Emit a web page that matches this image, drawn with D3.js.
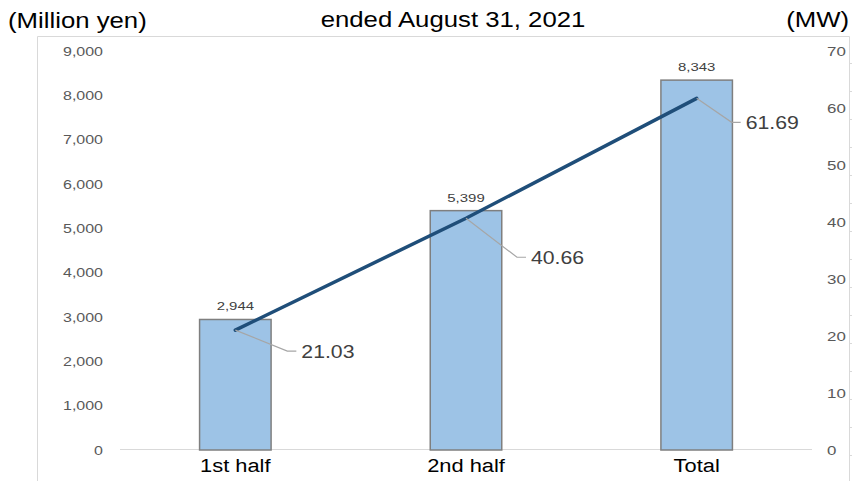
<!DOCTYPE html>
<html><head><meta charset="utf-8">
<script src="https://cdn.jsdelivr.net/npm/d3@7"></script>
<style>body{margin:0;background:#fff;}svg{display:block;font-family:"Liberation Sans",Arial,sans-serif;}</style>
</head><body>
<svg id="c" width="852" height="481"></svg>
<script>
const categories = ["1st half", "2nd half", "Total"];
const salesValues = [2944, 5399, 8343];       // Million yen (bars)
const mwValues = [21.03, 40.66, 61.69];       // MW (line)
const leftTicks = [0, 1000, 2000, 3000, 4000, 5000, 6000, 7000, 8000, 9000];
const rightTicks = [0, 10, 20, 30, 40, 50, 60, 70];
const leftTitle = "(Million yen)";
const centerTitle = "ended August 31, 2021";
const rightTitle = "(MW)";
// layout only: label leader offsets in px
const leaderDx = [52, 51, 35];
const leaderDy = [21, 39, 24];

const svg = d3.select("#c");
const W = 852, H = 481;
const plotL = 120, plotR = 812, yTop = 51, yBot = 450;

const x = d3.scaleBand().domain(categories).range([plotL, plotR]).paddingInner(0.69).paddingOuter(0.345);
const yL = d3.scaleLinear().domain([0, 9000]).range([yBot, yTop]);
const yR = d3.scaleLinear().domain([0, 70]).range([yBot, yTop]);

// text with horizontal stretch
function stext(parent, tx, ty, str, size, sx, anchor, fill) {
  return parent.append("text")
    .attr("transform", `translate(${tx},${ty}) scale(${sx},1)`)
    .attr("text-anchor", anchor).attr("font-size", size).attr("fill", fill)
    .text(str);
}
function stretchAxis(g, sx) {
  g.selectAll("text").each(function() {
    const t = d3.select(this);
    const xx = +t.attr("x") || 0;
    t.attr("x", 0).attr("transform", `translate(${xx},0) scale(${sx},1)`);
  });
}

// frame
svg.append("path").attr("d", `M37.5,${H} V36.5 H849.5 V${H}`).attr("fill","none").attr("stroke","#d9d9d9").attr("stroke-width",1);
for (let yy = 63; yy < H; yy += 28) {
  svg.append("line").attr("x1",849.5).attr("x2",852).attr("y1",yy+0.5).attr("y2",yy+0.5).attr("stroke","#d9d9d9");
}

// titles
stext(svg, 8, 28, leftTitle, 22, 1.17, "start", "#000");
stext(svg, 453, 27, centerTitle, 22, 1.17, "middle", "#000");
stext(svg, 849, 27, rightTitle, 22, 1.17, "end", "#000");

// left axis
const fmt = d3.format(",");
const gL = svg.append("g").attr("transform",`translate(${plotL},0)`)
  .call(d3.axisLeft(yL).tickValues(leftTicks).tickFormat(fmt).tickSize(0).tickPadding(17));
gL.select(".domain").remove();
gL.selectAll("text").attr("font-size",13).attr("fill","#595959").attr("font-family","Liberation Sans, Arial, sans-serif");
stretchAxis(gL, 1.23);

// right axis
const gR = svg.append("g").attr("transform",`translate(${plotR},0)`)
  .call(d3.axisRight(yR).tickValues(rightTicks).tickSize(0).tickPadding(15));
gR.select(".domain").remove();
gR.selectAll("text").attr("font-size",13).attr("fill","#595959").attr("font-family","Liberation Sans, Arial, sans-serif");
stretchAxis(gR, 1.3);

// baseline
svg.append("line").attr("x1",plotL).attr("x2",plotR).attr("y1",yL(0)-0.5).attr("y2",yL(0)-0.5).attr("stroke","#d9d9d9").attr("stroke-width",1);

// bars
svg.append("g").selectAll("rect").data(salesValues).join("rect")
  .attr("x",(d,i)=>x(categories[i]))
  .attr("y",d=>yL(d))
  .attr("width",x.bandwidth())
  .attr("height",d=>yL(0)-yL(d))
  .attr("fill","#9dc3e6").attr("stroke","#7f7f7f").attr("stroke-width",1.5);

// bar labels
const gBL = svg.append("g");
salesValues.forEach((d,i)=>{
  stext(gBL, x(categories[i])+x.bandwidth()/2, yL(d)-9, fmt(d), 11.5, 1.3, "middle", "#404040");
});

// category labels
const gC = svg.append("g");
categories.forEach(c=>{
  stext(gC, x(c)+x.bandwidth()/2, 472, c, 19, 1.15, "middle", "#000");
});

// line
const cx = i => x(categories[i]) + x.bandwidth()/2;
const line = d3.line().x((d,i)=>cx(i)).y(d=>yR(d));
svg.append("path").datum(mwValues).attr("d",line).attr("fill","none")
  .attr("stroke","#1f4e79").attr("stroke-width",3.5).attr("stroke-linecap","round");

// leader lines and labels
mwValues.forEach((v,i)=>{
  const px = cx(i), py = yR(v);
  const ex = px + leaderDx[i], ey = py + leaderDy[i];
  svg.append("path").attr("d",`M${px},${py} L${ex},${ey} H${ex+9}`)
    .attr("fill","none").attr("stroke","#a6a6a6").attr("stroke-width",1.2);
  stext(svg, ex+14, ey+6.5, v.toFixed(2), 18, 1.18, "start", "#404040");
});
</script>
</body></html>
